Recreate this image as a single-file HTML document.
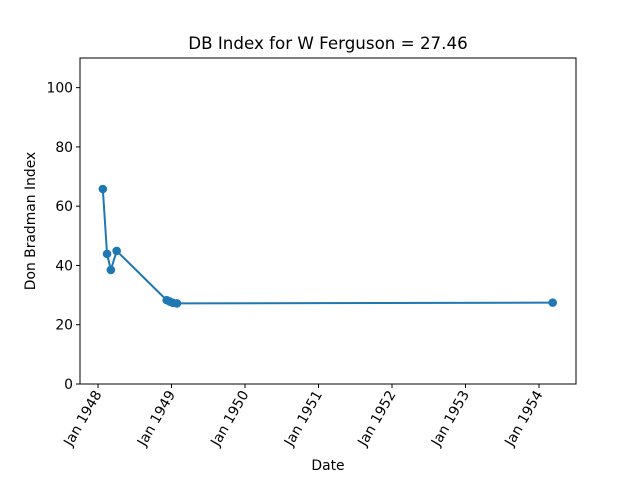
<!DOCTYPE html>
<html><head><meta charset="utf-8"><style>
body{margin:0;background:#fff}
svg text{font-family:"DejaVu Sans","Liberation Sans",sans-serif;fill:#000}
</style></head><body>
<svg id="c" width="640" height="480" xmlns="http://www.w3.org/2000/svg"></svg>
<script>
const dates=["1948-01-25","1948-02-15","1948-03-05","1948-04-03","1948-12-08","1948-12-24","1949-01-08","1949-01-28","1954-03-10"];
const values=[65.8,43.9,38.5,44.9,28.3,27.8,27.4,27.2,27.46];
const yTicks=[0,20,40,60,80,100];
const xTickYears=[1948,1949,1950,1951,1952,1953,1954];
const NS="http://www.w3.org/2000/svg";
const svg=document.getElementById('c');
const L=80,R=576,T=58,B=384;
function dec(s){const d=new Date(s+"T00:00:00Z");const y=d.getUTCFullYear();const a=Date.UTC(y,0,1),b=Date.UTC(y+1,0,1);return y+(d-a)/(b-a);}
const xS=v=>98+(v-1948)*73.5;
const yS=v=>B-(v/110)*(B-T);
function mk(t,a,p){const e=document.createElementNS(NS,t);for(const k in a)e.setAttribute(k,a[k]);(p||svg).appendChild(e);return e;}
const frame=mk('rect',{x:L,y:T,width:R-L,height:B-T,fill:'none',stroke:'#000','stroke-width':1});


yTicks.forEach(v=>{const y=yS(v);
const tk=mk('line',{x1:L-4,x2:L,y1:y,y2:y,stroke:'#000'});


const t=mk('text',{x:L-7,y:y+5,'text-anchor':'end','font-size':13.9});t.textContent=v;

});
xTickYears.forEach(yr=>{const x=xS(yr);
const tk=mk('line',{x1:x,x2:x,y1:B,y2:B+4,stroke:'#000'});


const t=mk('text',{x:x+4,y:B+10,'text-anchor':'end','font-size':13.9,transform:`rotate(-60 ${x+4} ${B+10})`});t.textContent='Jan '+yr;

});
const pts=dates.map((d,i)=>[xS(dec(d)),yS(values[i])]);
const line=mk('polyline',{points:pts.map(p=>p.join(',')).join(' '),fill:'none',stroke:'#1f77b4','stroke-width':2});


pts.forEach(p=>{const c=mk('circle',{cx:p[0],cy:p[1],r:4.3,fill:'#1f77b4'});

});
const title=mk('text',{x:328,y:49,'text-anchor':'middle','font-size':16.7});title.textContent='DB Index for W Ferguson = 27.46';


const xl=mk('text',{x:328,y:470,'text-anchor':'middle','font-size':13.9});xl.textContent='Date';


const yl=mk('text',{x:35,y:221,'text-anchor':'middle','font-size':13.9,transform:'rotate(-90 35 221)'});yl.textContent='Don Bradman Index';


</script>
</body></html>
